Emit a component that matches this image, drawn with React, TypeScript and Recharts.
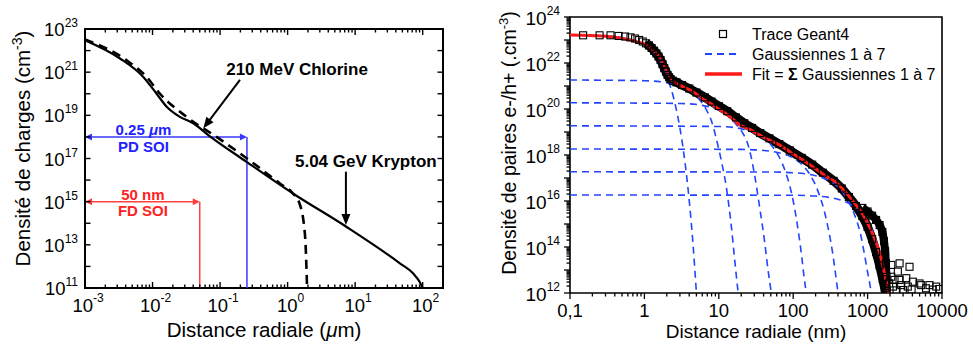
import React from 'react';
import {
  ComposedChart, Line, Scatter, XAxis, YAxis, ReferenceLine, ReferenceDot,
  ReferenceArea, Legend, Label,
} from 'recharts';

const FONT = '"Liberation Sans", Arial, Helvetica, sans-serif';
const BLUE_L = '#3838ff';
const RED_L = '#ff4040';
const BLUE_R = '#2345ff';
const RED_R = '#ff1a1a';

// ---------------- Left panel data (radius in µm, density cm^-3) ----------------
const kryptonR = [0.001, 0.0033, 0.0073, 0.0115, 0.0162, 0.0254, 0.04, 0.07, 0.25, 1.2, 7.4, 46, 72, 90, 100];
const kryptonN = [3e22, 4.3e21, 6e20, 1e20, 2.5e19, 8.5e18, 4.3e18, 1.1e18, 6.8e16, 2.4e15, 6.9e13, 1.4e12, 4.8e11, 1.95e11, 1e11];

const chlorineR = [0.001, 0.0041, 0.0082, 0.0129, 0.0319, 0.0887, 0.25, 0.77, 1.2, 1.5, 1.8, 1.9, 1.94];
const chlorineN = [3.3e22, 3.6e21, 6e20, 1e20, 8.5e18, 1e18, 1e17, 7e15, 2.4e15, 8.3e14, 3.4e13, 9.8e11, 1e11];

const pdSoi = { width: 0.25, level: 1e18 };
const fdSoi = { width: 0.05, level: 1e15 };

const leftXMajor = [1e-3, 1e-2, 1e-1, 1, 10, 100];
const leftYDecades = [1e11, 1e12, 1e13, 1e14, 1e15, 1e16, 1e17, 1e18, 1e19, 1e20, 1e21, 1e22, 1e23];

// ---------------- Right panel data (radius in nm, density cm^-3) ----------------
const fitR = [0.1, 0.28, 0.577, 0.8, 1.07, 1.3, 1.61, 1.85, 2.09, 2.3, 2.7, 3.5, 4.52, 6, 7.57, 9.5, 11.4, 15, 19.1, 25, 32, 48, 66, 90, 135, 200, 270, 380, 500, 670, 850, 1050, 1250, 1450, 1650, 1800, 1920];
const fitN = [1.66e23, 1.48e23, 1.07e23, 8.3e22, 6e22, 3.5e22, 1.86e22, 7.9e21, 3.5e21, 1.9e21, 1.3e21, 8.5e20, 5.6e20, 2.8e20, 1.8e20, 1.1e20, 7.6e19, 4e19, 2e19, 1.4e19, 8.7e18, 4.5e18, 2.7e18, 1.4e18, 6e17, 2.5e17, 1.26e17, 6.3e16, 2.5e16, 7.9e15, 2.8e15, 7.9e14, 2.2e14, 5.6e13, 1e13, 2.8e12, 1e12];

const gaussTR = [0.1, 0.3, 0.5, 0.7, 0.9, 1.1, 1.3, 1.5, 1.8, 2.1, 2.5, 2.8, 3.2, 3.6, 4.0, 4.5, 5.0];
const gaussTN = [1.66e23, 1.5e23, 1.29e23, 1e23, 7.2e22, 4.8e22, 2.9e22, 1.6e22, 5.9e21, 1.74e21, 2.6e20, 5e19, 4.2e18, 2.5e17, 1.1e16, 1.35e14, 1e12];

const gauss1R = [0.1, 1, 2, 3, 4, 5, 6, 7, 8, 9.3, 10.9, 12.7, 14.8, 16.4, 18.2];
const gauss1N = [1.82e21, 1.7e21, 1.4e21, 1.02e21, 6.5e20, 3.6e20, 1.8e20, 7.8e19, 2.9e19, 4.8e18, 5e17, 3.5e16, 7e14, 2.5e13, 1e12];

const gauss2R = [0.1, 3, 6, 9, 12, 15, 18, 21, 24.7, 27.5, 30.4, 35.5, 41.4, 45.9, 50.9];
const gauss2N = [1.86e20, 1.74e20, 1.44e20, 1.02e20, 6.5e19, 3.5e19, 1.74e19, 8.9e18, 2.8e18, 7.1e17, 1.26e17, 5e15, 1.6e14, 1e13, 1e12];

const gauss3R = [0.1, 10, 20, 30, 40, 50, 60, 70, 80, 90, 100, 110, 120, 130, 140, 150];
const gauss3N = [1.86e19, 1.74e19, 1.38e19, 9.5e18, 5.6e18, 2.9e18, 1.26e18, 4.9e17, 1.6e17, 4.5e16, 1e16, 1.8e15, 2.8e14, 4e13, 5e12, 1e12];

const gauss4R = [0.1, 20, 40, 60, 80, 100, 130, 160, 190, 220, 260, 300, 340, 370, 400];
const gauss4N = [1.82e18, 1.75e18, 1.58e18, 1.32e18, 1.02e18, 7.4e17, 3.9e17, 1.78e17, 6.9e16, 2.2e16, 4e15, 5.1e14, 5.1e13, 7.2e12, 1e12];

const gauss5R = [0.1, 50, 100, 150, 200, 300, 400, 500, 600, 700, 800, 900, 1000, 1060, 1122];
const gauss5N = [1.86e17, 1.82e17, 1.7e17, 1.5e17, 1.26e17, 7.8e16, 4e16, 1.66e16, 5.8e15, 1.66e15, 3.9e14, 5.6e13, 8e12, 3e12, 1e12];

const gauss6R = [0.1, 100, 200, 300, 400, 500, 600, 700, 800, 900, 1000, 1100, 1200, 1300, 1400, 1500, 1600, 1700, 1800, 1920];
const gauss6N = [1.82e16, 1.78e16, 1.64e16, 1.44e16, 1.2e16, 9.3e15, 7e15, 4.9e15, 3.3e15, 2.1e15, 1.27e15, 7.2e14, 4e14, 2e14, 1e14, 4.6e13, 2e13, 8.3e12, 3.3e12, 1e12];

// Geant4 trace: dense core of the cloud
const geantR = [0.15, 0.25, 0.35, 0.45, 0.55, 0.65, 0.75, 0.85, 0.95, 1.05, 1.15, 1.25, 1.35, 1.45, 1.55, 1.65, 1.75, 1.85, 1.95, 2.05, 2.15, 2.25, 2.4, 2.7, 3.2, 4, 5, 6.5, 8, 10, 13, 17, 22, 28, 36, 48, 65, 90, 130, 180, 250, 350, 450, 560, 700, 850, 1000, 1150, 1300, 1450, 1600, 1700, 1780];
const geantN = [1.6e23, 1.6e23, 1.6e23, 1.5e23, 1.42e23, 1.3e23, 1.16e23, 1e23, 8.6e22, 7.2e22, 5.8e22, 4.5e22, 3.4e22, 2.6e22, 1.9e22, 1.35e22, 9e21, 6e21, 4.2e21, 3e21, 2.4e21, 2e21, 1.7e21, 1.45e21, 1.1e21, 7.8e20, 5.2e20, 3.2e20, 2.1e20, 1.35e20, 8e19, 4.3e19, 2.4e19, 1.5e19, 9e18, 5.3e18, 3e18, 1.6e18, 7.5e17, 3.8e17, 1.7e17, 7.5e16, 3.5e16, 1.5e16, 6e15, 2.2e15, 7.5e14, 2.2e14, 6e13, 1.6e13, 4e12, 1.6e12, 1e12];
// Geant4 trace: outer (large-radius) edge of the cloud in the tail
const geantOuterR = [850, 1000, 1150, 1300, 1450, 1580, 1660, 1720, 1760, 1790, 1810];
const geantOuterN = [5e15, 3.5e15, 2.3e15, 1.5e15, 9e14, 4.5e14, 1.8e14, 6.5e13, 2e13, 5e12, 1.2e12];
// Geant4 trace: isolated points beyond the track edge
const geantTailR = [1950, 2080, 2690, 3660, 2550, 2080, 2690, 3310, 4060, 4990, 6800, 8350, 2190, 2830, 3470, 2980, 5250, 2300, 2450, 3900, 7500, 9200, 6100];
const geantTailN = [2.6e12, 1.66e13, 1.95e13, 1.38e13, 8.5e12, 5.1e12, 3.7e12, 4.4e12, 3.1e12, 2.6e12, 2.2e12, 1.9e12, 1.9e12, 2.2e12, 1.9e12, 1.35e12, 2.2e12, 3.7e12, 1.3e12, 1.4e12, 1.4e12, 1.5e12, 1.6e12];

const rightXMajor = [0.1, 1, 10, 100, 1000, 10000];
const rightXLabels = ['0,1', '1', '10', '100', '1000', '10000'];
const rightYDecades = [1e12, 1e13, 1e14, 1e15, 1e16, 1e17, 1e18, 1e19, 1e20, 1e21, 1e22, 1e23, 1e24];

const legendLabels = ['Trace Geant4', 'Gaussiennes 1 à 7', 'Gaussiennes 1 à 7'];

// ---------------- helpers ----------------
const zip = (r: number[], n: number[]) => r.map((x, i) => ({ x, y: n[i] }));
const minorSteps = [1, 2, 3, 4, 5, 6, 7, 8, 9];
const withMinors = (decades: number[], max: number) =>
  decades.flatMap((d) => minorSteps.map((m) => m * d)).filter((v) => v <= max * 1.0001);
const isDecade = (v: number) => {
  const l = Math.log10(v);
  return Math.abs(l - Math.round(l)) < 1e-6;
};
const expOf = (v: number) => Math.round(Math.log10(v));

const LP = { w: 358, h: 259 };

const leftXTicks = withMinors(leftXMajor, 150);
const rightXTicks = withMinors(rightXMajor, 10000);
const rightYTicks = withMinors(rightYDecades, 1e24);

function LeftXTick(p: any) {
  const { x, y, payload } = p;
  const v = payload.value;
  const major = isDecade(v);
  const len = major ? 6 : 3.5;
  return (
    <g>
      <line x1={x} y1={y} x2={x} y2={y - len} stroke="#000" strokeWidth={1.4} />
      <line x1={x} y1={y - LP.h} x2={x} y2={y - LP.h + len} stroke="#000" strokeWidth={1.4} />
      {major && (
        <text x={x + 3} y={y + 24} textAnchor="middle" fontSize={18.5} fontFamily={FONT} fill="#000">
          10<tspan dy={-10} fontSize={12}>{expOf(v)}</tspan>
        </text>
      )}
    </g>
  );
}

function LeftYTick(p: any) {
  const { x, y, payload } = p;
  const e = expOf(payload.value);
  const labeled = Math.abs(e) % 2 === 1;
  const len = 5.5;
  return (
    <g>
      <line x1={x} y1={y} x2={x + len} y2={y} stroke="#000" strokeWidth={1.4} />
      <line x1={x + LP.w} y1={y} x2={x + LP.w - len} y2={y} stroke="#000" strokeWidth={1.4} />
      {labeled && (
        <text x={x - 7} y={y + 7} textAnchor="end" fontSize={18.5} fontFamily={FONT} fill="#000">
          10<tspan dy={-9} fontSize={12}>{e}</tspan>
        </text>
      )}
    </g>
  );
}

function RightXTick(p: any) {
  const { x, y, payload } = p;
  const v = payload.value;
  const major = isDecade(v);
  const len = major ? 6 : 3.5;
  const idx = rightXMajor.findIndex((m) => Math.abs(Math.log10(m) - Math.log10(v)) < 1e-6);
  return (
    <g>
      <line x1={x} y1={y} x2={x} y2={y + len} stroke="#000" strokeWidth={1.3} />
      {idx >= 0 && (
        <text x={x} y={y + 24} textAnchor="middle" fontSize={18.5} fontFamily={FONT} fill="#000">
          {rightXLabels[idx]}
        </text>
      )}
    </g>
  );
}

function RightYTick(p: any) {
  const { x, y, payload } = p;
  const v = payload.value;
  const major = isDecade(v);
  const e = expOf(v);
  const len = major ? 6 : 3.5;
  return (
    <g>
      <line x1={x} y1={y} x2={x - len} y2={y} stroke="#000" strokeWidth={1.3} />
      {major && e % 2 === 0 && (
        <text x={x - 10} y={y + 8} textAnchor="end" fontSize={19} fontFamily={FONT} fill="#000">
          10<tspan dy={-10} fontSize={12}>{e}</tspan>
        </text>
      )}
    </g>
  );
}

const arrowShape = (color: string, width: number, head: number, halfW: number, both: boolean) => (p: any) => {
  const { x1, y1, x2, y2 } = p;
  const dx = x2 - x1;
  const dy = y2 - y1;
  const L = Math.hypot(dx, dy) || 1;
  const ux = dx / L;
  const uy = dy / L;
  const headPath = (tx: number, ty: number, sx: number, sy: number) => {
    const bx = tx - sx * head;
    const by = ty - sy * head;
    return `M${tx},${ty} L${bx - sy * halfW},${by + sx * halfW} L${bx + sy * halfW},${by - sx * halfW} Z`;
  };
  const sx1 = both ? x1 + ux * head * 0.8 : x1;
  const sy1 = both ? y1 + uy * head * 0.8 : y1;
  return (
    <g>
      <line x1={sx1} y1={sy1} x2={x2 - ux * head * 0.8} y2={y2 - uy * head * 0.8} stroke={color} strokeWidth={width} />
      <path d={headPath(x2, y2, ux, uy)} fill={color} />
      {both && <path d={headPath(x1, y1, -ux, -uy)} fill={color} />}
    </g>
  );
};

const textShape = (content: React.ReactNode, color: string, size: number, dy: number) => (p: any) => (
  <text x={p.cx} y={p.cy + dy} textAnchor="middle" fontSize={size} fontWeight="bold" fontFamily={FONT} fill={color}>
    {content}
  </text>
);

function RightLegend() {
  return (
    <svg width={260} height={64} style={{ display: 'block', overflow: 'visible' }}>
      <rect x={14.5} y={8.5} width={7} height={7} fill="none" stroke="#000" strokeWidth={1.2} />
      <text x={47} y={18} fontSize={16} fontFamily={FONT} fill="#000">{legendLabels[0]}</text>
      <line x1={0} x2={33} y1={32} y2={32} stroke={BLUE_R} strokeWidth={1.8} strokeDasharray="7 5" />
      <text x={47} y={38} fontSize={16} fontFamily={FONT} fill="#000">{legendLabels[1]}</text>
      <line x1={0} x2={37} y1={52} y2={52} stroke={RED_R} strokeWidth={3.5} />
      <text x={47} y={58} fontSize={16} fontFamily={FONT} fill="#000">
        Fit = <tspan fontWeight="bold">Σ</tspan> {legendLabels[2]}
      </text>
    </svg>
  );
}

function LeftChart() {
  return (
    <ComposedChart width={490} height={345} margin={{ top: 29, right: 47, bottom: 0, left: 0 }}>
      <XAxis
        dataKey="x" type="number" scale="log" domain={[0.001, 200]} allowDataOverflow
        ticks={leftXTicks} interval={0} tick={<LeftXTick />} tickLine={false} axisLine={false}
        tickSize={0} tickMargin={0} height={57}
      >
        <Label
          content={() => (
            <text x={264} y={337} textAnchor="middle" fontSize={20.5} fontFamily={FONT} fill="#000">
              Distance radiale (<tspan fontStyle="italic">μ</tspan>m)
            </text>
          )}
        />
      </XAxis>
      <YAxis
        dataKey="y" type="number" scale="log" domain={[1e11, 1e23]} allowDataOverflow
        ticks={leftYDecades} interval={0} tick={<LeftYTick />} tickLine={false} axisLine={false}
        tickSize={0} tickMargin={0} width={85}
      >
        <Label
          content={() => (
            <text x={30} y={148.5} transform="rotate(-90 30 148.5)" textAnchor="middle" fontSize={20.5} fontFamily={FONT} fill="#000">
              Densité de charges (cm<tspan dy={-8} fontSize={14}>-3</tspan><tspan dy={8}>)</tspan>
            </text>
          )}
        />
      </YAxis>
      <ReferenceArea x1={0.001} x2={200} y1={1e11} y2={1e23} fill="none" stroke="#000" strokeWidth={2} ifOverflow="visible" />

      <ReferenceLine segment={[{ x: pdSoi.width, y: pdSoi.level }, { x: pdSoi.width, y: 1e11 }]} stroke={BLUE_L} strokeWidth={1.5} ifOverflow="visible" />
      <ReferenceLine segment={[{ x: 0.001, y: pdSoi.level }, { x: pdSoi.width, y: pdSoi.level }]} ifOverflow="visible" shape={arrowShape(BLUE_L, 1.5, 7, 3.5, true)} />
      <ReferenceLine segment={[{ x: fdSoi.width, y: fdSoi.level }, { x: fdSoi.width, y: 1e11 }]} stroke={RED_L} strokeWidth={1.5} ifOverflow="visible" />
      <ReferenceLine segment={[{ x: 0.001, y: fdSoi.level }, { x: fdSoi.width, y: fdSoi.level }]} ifOverflow="visible" shape={arrowShape(RED_L, 1.5, 7, 3.5, true)} />

      <Line data={zip(kryptonR, kryptonN)} dataKey="y" type="monotone" stroke="#000" strokeWidth={2.2} dot={false} activeDot={false} isAnimationActive={false} />
      <Line data={zip(chlorineR, chlorineN)} dataKey="y" type="monotone" stroke="#000" strokeWidth={2.6} strokeDasharray="9 6" dot={false} activeDot={false} isAnimationActive={false} />

      <ReferenceLine segment={[{ x: 0.197, y: 4.4e20 }, { x: 0.0565, y: 2.5e18 }]} ifOverflow="visible" shape={arrowShape('#000', 2, 11, 4.5, false)} />
      <ReferenceLine segment={[{ x: 7.3, y: 2.45e16 }, { x: 7.3, y: 8.3e13 }]} ifOverflow="visible" shape={arrowShape('#000', 2, 11, 4.5, false)} />

      <ReferenceDot x={1.38} y={7.4e20} ifOverflow="visible" shape={textShape('210 MeV Chlorine', '#000', 17, 0)} />
      <ReferenceDot x={14.4} y={4.2e16} ifOverflow="visible" shape={textShape('5.04 GeV Krypton', '#000', 17, 0)} />
      <ReferenceDot x={0.00735} y={pdSoi.level} ifOverflow="visible" shape={textShape(<>0.25 <tspan fontStyle="italic">μ</tspan>m</>, '#2222ff', 15, -2)} />
      <ReferenceDot x={0.00735} y={pdSoi.level} ifOverflow="visible" shape={textShape('PD SOI', '#2222ff', 15, 15)} />
      <ReferenceDot x={0.0072} y={fdSoi.level} ifOverflow="visible" shape={textShape('50 nm', '#ff2222', 15, -2)} />
      <ReferenceDot x={0.0072} y={fdSoi.level} ifOverflow="visible" shape={textShape('FD SOI', '#ff2222', 15, 14.5)} />
    </ComposedChart>
  );
}

const SquareMark = (p: any) => (
  <rect x={p.cx - 3.5} y={p.cy - 3.5} width={7} height={7} fill="none" stroke="#000" strokeWidth={1.1} />
);

function RightChart() {
  const gaussians = [
    zip(gaussTR, gaussTN), zip(gauss1R, gauss1N), zip(gauss2R, gauss2N), zip(gauss3R, gauss3N),
    zip(gauss4R, gauss4N), zip(gauss5R, gauss5N), zip(gauss6R, gauss6N),
  ];
  const geant = zip(geantR, geantN);
  const band = geant.filter((d) => d.x >= 1.0);
  const outer = zip(geantOuterR, geantOuterN);
  return (
    <ComposedChart width={483} height={345} margin={{ top: 17, right: 31, bottom: 0, left: 0 }}>
      <XAxis
        dataKey="x" type="number" scale="log" domain={[0.1, 10000]} allowDataOverflow
        ticks={rightXTicks} interval={0} tick={<RightXTick />} tickLine={false} axisLine={false}
        tickSize={0} tickMargin={0} height={52}
      >
        <Label
          content={() => (
            <text x={266} y={338} textAnchor="middle" fontSize={19} fontFamily={FONT} fill="#000">
              Distance radiale (nm)
            </text>
          )}
        />
      </XAxis>
      <YAxis
        dataKey="y" type="number" scale="log" domain={[1e12, 1e24]} allowDataOverflow
        ticks={rightYTicks} interval={0} tick={<RightYTick />} tickLine={false} axisLine={false}
        tickSize={0} tickMargin={0} width={80}
      >
        <Label
          content={() => (
            <text x={26} y={143} transform="rotate(-90 26 143)" textAnchor="middle" fontSize={19.5} fontFamily={FONT} fill="#000">
              Densité de paires e-/h+ (.cm<tspan dy={-8} fontSize={13}>-3</tspan><tspan dy={8}>)</tspan>
            </text>
          )}
        />
      </YAxis>
      <ReferenceArea x1={0.1} x2={10000} y1={1e12} y2={1e24} fill="none" stroke="#000" strokeWidth={1.6} ifOverflow="visible" />

      <Line data={band} dataKey="y" type="monotone" stroke="#000" strokeWidth={9} dot={false} activeDot={false} isAnimationActive={false} />
      <Line data={outer} dataKey="y" type="monotone" stroke="#000" strokeWidth={8} dot={false} activeDot={false} isAnimationActive={false} />
      <Scatter data={geant} shape={SquareMark} isAnimationActive={false} />
      <Scatter data={outer} shape={SquareMark} isAnimationActive={false} />
      <Scatter data={zip(geantTailR, geantTailN)} shape={SquareMark} isAnimationActive={false} />

      {gaussians.map((g, i) => (
        <Line key={i} data={g} dataKey="y" type="monotone" stroke={BLUE_R} strokeWidth={1.6} strokeDasharray="7 5" dot={false} activeDot={false} isAnimationActive={false} />
      ))}
      <Line data={zip(fitR, fitN)} dataKey="y" type="monotone" stroke={RED_R} strokeWidth={3} dot={false} activeDot={false} isAnimationActive={false} />

      <Legend
        content={() => <RightLegend />}
        layout="vertical" align="center" verticalAlign="middle"
        wrapperStyle={{ left: 215, top: 22, width: 260, height: 64 }}
      />
    </ComposedChart>
  );
}

export default function App() {
  return (
    <div style={{ position: 'absolute', left: 0, top: 0, width: 973, height: 345, background: '#fff', overflow: 'hidden' }}>
      <div style={{ position: 'absolute', left: 0, top: 0 }}>
        <LeftChart />
      </div>
      <div style={{ position: 'absolute', left: 490, top: 0 }}>
        <RightChart />
      </div>
    </div>
  );
}
